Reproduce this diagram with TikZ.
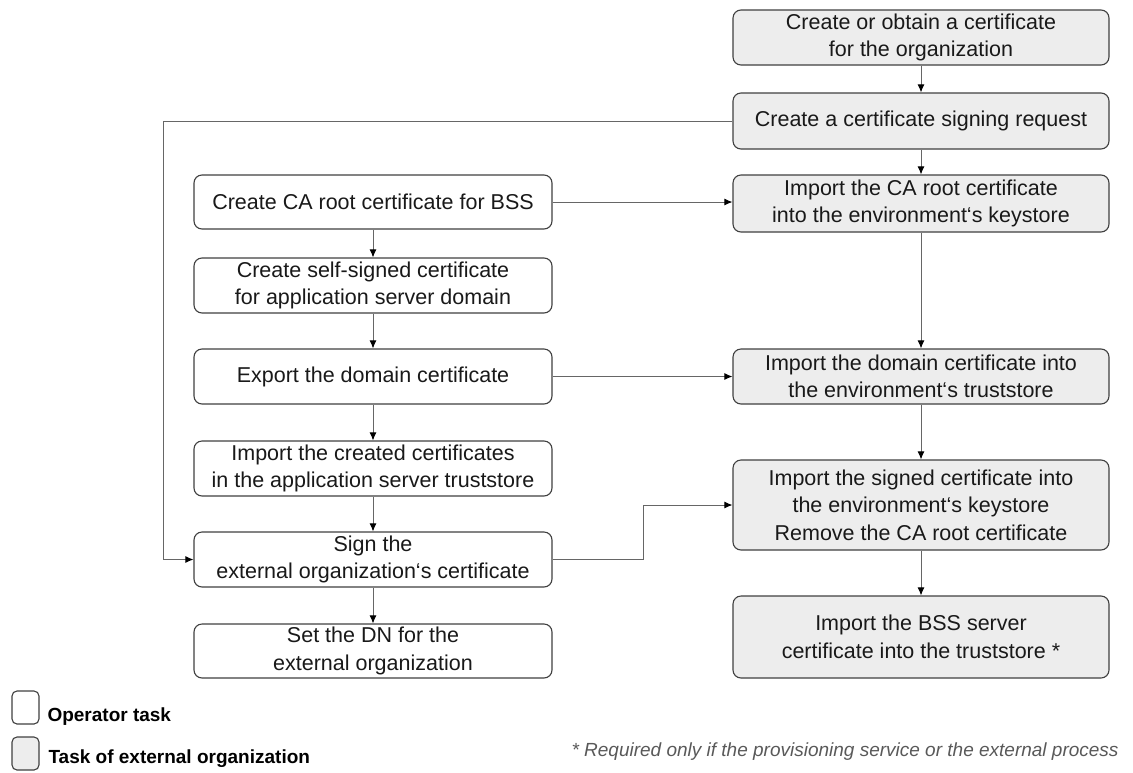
\documentclass[tikz,border=0pt]{standalone}
\usepackage{fontspec}
\setmainfont{Liberation Sans}
\usetikzlibrary{arrows.meta}

\begin{document}
\begin{tikzpicture}[x=1pt, y=-1pt,
  task/.style={rectangle, rounded corners=8pt, draw=black!75, line width=1.1pt, align=center, inner sep=2pt, minimum height=#1, font=\fontsize{21.5}{27.5}\selectfont, text=black!90},
  optask/.style={task=#1, minimum width=358pt, fill=white},
  optask/.default=55pt,
  extask/.style={task=#1, minimum width=376pt, fill=black!7},
  extask/.default=55pt,
  flow/.style={draw=black!60, line width=1pt, -{Latex[length=8pt,width=7pt,color=black]}},
  legend/.style={anchor=west, font=\bfseries\fontsize{19}{22}\selectfont}]

  \useasboundingbox (0,0) rectangle (1133,772);

  \node[extask] (orgcert) at (921,37.5) {Create or obtain a certificate\\for the organization};
  \node[extask=56pt] (csr) at (921,121) {Create a certificate signing request};
  \node[extask=57pt] (impca) at (921,203.5) {Import the CA root certificate\\into the environment‘s keystore};
  \node[extask] (impdom) at (921,376.5) {Import the domain certificate into\\the environment‘s truststore};
  \node[extask=90pt] (impsig) at (921,505) {Import the signed certificate into\\the environment‘s keystore\\Remove the CA root certificate};
  \node[extask=82pt] (impbss) at (921,637) {Import the BSS server\\certificate into the truststore *};

  \node[optask=54pt] (caroot) at (373,202) {Create CA root certificate for BSS};
  \node[optask] (selfsig) at (373,285.5) {Create self-signed certificate\\for application server domain};
  \node[optask] (export) at (373,376.5) {Export the domain certificate};
  \node[optask] (impcreated) at (373,468.5) {Import the created certificates\\in the application server truststore};
  \node[optask] (sign) at (373,559.5) {Sign the\\external organization‘s certificate};
  \node[optask=54pt] (setdn) at (373,651) {Set the DN for the\\external organization};

  \coordinate (back) at (163,121);
  \coordinate (jog) at (643,559.5);

  \draw[flow] (orgcert) -- (csr);
  \draw[flow] (csr) -- (impca);
  \draw[flow] (impca) -- (impdom);
  \draw[flow] (impdom) -- (impsig);
  \draw[flow] (impsig) -- (impbss);

  \draw[flow] (caroot) -- (selfsig);
  \draw[flow] (selfsig) -- (export);
  \draw[flow] (export) -- (impcreated);
  \draw[flow] (impcreated) -- (sign);
  \draw[flow] (sign) -- (setdn);

  \draw[flow] (caroot.east) -- (caroot.east -| impca.west);
  \draw[flow] (export) -- (impdom);
  \draw[flow] (csr.west) -- (back) |- (sign.west);
  \draw[flow] (sign.east) -- (jog) |- (impsig.west);

  \node[task=33pt, minimum width=27pt, rounded corners=5pt, fill=white] (legop) at (25.5,707.5) {};
  \node[legend] (legoptxt) at (44,717) {Operator task};
  \node[task=33pt, minimum width=27pt, rounded corners=5pt, fill=black!7] (legex) at (25.5,753.5) {};
  \node[legend] (legextxt) at (45,759) {Task of external organization};

  \node[anchor=west, text=black!65, font=\itshape\fontsize{19}{22}\selectfont] (note) at (568,752) {* Required only if the provisioning service or the external process};

\end{tikzpicture}
\end{document}
